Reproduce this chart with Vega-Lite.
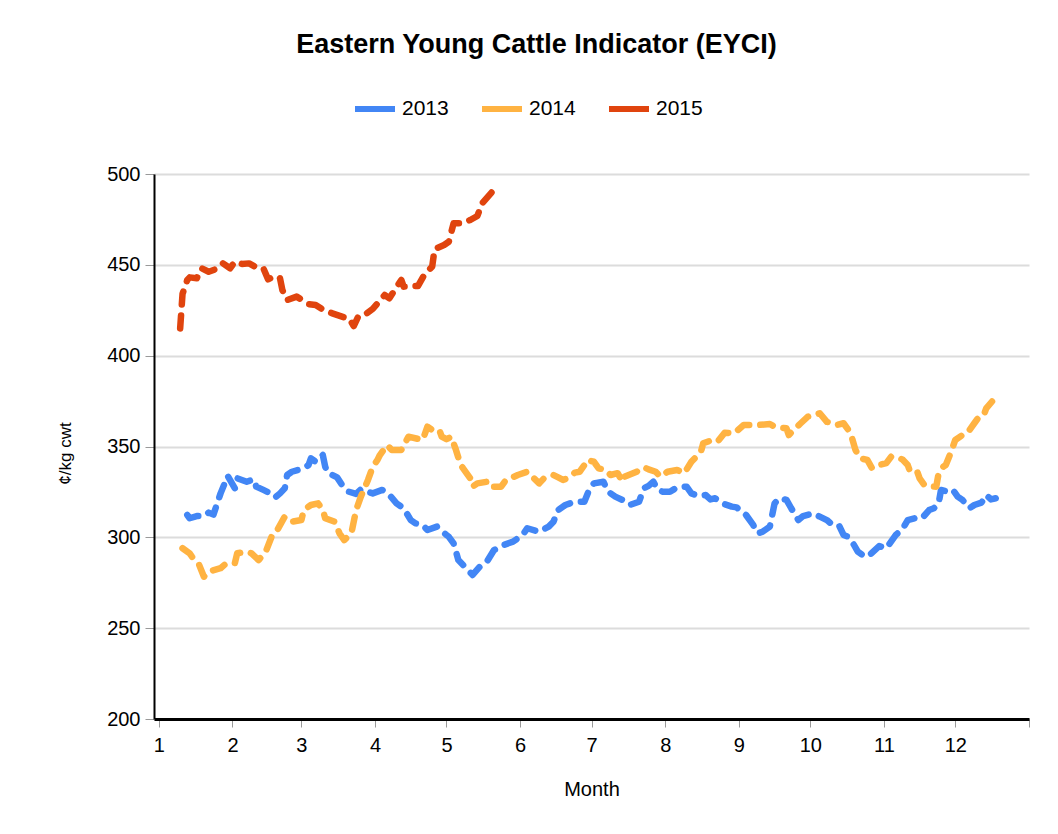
{
  "$schema": "https://vega.github.io/schema/vega-lite/v6.json",
  "width": 875,
  "height": 545,
  "autosize": "none",
  "padding": {"left": 154, "top": 174, "right": 29, "bottom": 115},
  "background": "white",
  "title": {"text": "Eastern Young Cattle Indicator (EYCI)", "fontSize": 27, "fontWeight": "bold", "font": "Liberation Sans", "color": "#000000", "anchor": "middle", "dx": -55, "offset": 27},
  "data": {"values": [
    {"year": "2013", "date": "2013-01-13", "value": 312.3},
    {"year": "2013", "date": "2013-01-14", "value": 310.5},
    {"year": "2013", "date": "2013-01-17", "value": 311.7},
    {"year": "2013", "date": "2013-01-20", "value": 311.7},
    {"year": "2013", "date": "2013-01-22", "value": 313.6},
    {"year": "2013", "date": "2013-01-24", "value": 312.5},
    {"year": "2013", "date": "2013-01-27", "value": 324.2},
    {"year": "2013", "date": "2013-01-30", "value": 333.8},
    {"year": "2013", "date": "2013-02-02", "value": 327.0},
    {"year": "2013", "date": "2013-02-03", "value": 332.5},
    {"year": "2013", "date": "2013-02-07", "value": 330.6},
    {"year": "2013", "date": "2013-02-10", "value": 331.9},
    {"year": "2013", "date": "2013-02-11", "value": 327.9},
    {"year": "2013", "date": "2013-02-14", "value": 326.1},
    {"year": "2013", "date": "2013-02-17", "value": 324.2},
    {"year": "2013", "date": "2013-02-19", "value": 322.0},
    {"year": "2013", "date": "2013-02-21", "value": 324.2},
    {"year": "2013", "date": "2013-02-23", "value": 327.0},
    {"year": "2013", "date": "2013-02-24", "value": 334.3},
    {"year": "2013", "date": "2013-02-26", "value": 336.1},
    {"year": "2013", "date": "2013-03-02", "value": 338.0},
    {"year": "2013", "date": "2013-03-04", "value": 339.8},
    {"year": "2013", "date": "2013-03-05", "value": 343.5},
    {"year": "2013", "date": "2013-03-07", "value": 341.6},
    {"year": "2013", "date": "2013-03-10", "value": 345.3},
    {"year": "2013", "date": "2013-03-11", "value": 338.9},
    {"year": "2013", "date": "2013-03-12", "value": 335.6},
    {"year": "2013", "date": "2013-03-14", "value": 334.3},
    {"year": "2013", "date": "2013-03-16", "value": 333.0},
    {"year": "2013", "date": "2013-03-19", "value": 327.0},
    {"year": "2013", "date": "2013-03-21", "value": 325.1},
    {"year": "2013", "date": "2013-03-24", "value": 323.9},
    {"year": "2013", "date": "2013-03-26", "value": 326.4},
    {"year": "2013", "date": "2013-03-31", "value": 324.2},
    {"year": "2013", "date": "2013-04-04", "value": 326.1},
    {"year": "2013", "date": "2013-04-07", "value": 323.3},
    {"year": "2013", "date": "2013-04-10", "value": 318.7},
    {"year": "2013", "date": "2013-04-13", "value": 316.0},
    {"year": "2013", "date": "2013-04-16", "value": 309.5},
    {"year": "2013", "date": "2013-04-18", "value": 307.7},
    {"year": "2013", "date": "2013-04-21", "value": 306.8},
    {"year": "2013", "date": "2013-04-23", "value": 304.0},
    {"year": "2013", "date": "2013-04-27", "value": 305.9},
    {"year": "2013", "date": "2013-05-01", "value": 301.3},
    {"year": "2013", "date": "2013-05-02", "value": 300.3},
    {"year": "2013", "date": "2013-05-04", "value": 296.7},
    {"year": "2013", "date": "2013-05-06", "value": 287.5},
    {"year": "2013", "date": "2013-05-08", "value": 284.8},
    {"year": "2013", "date": "2013-05-12", "value": 279.3},
    {"year": "2013", "date": "2013-05-15", "value": 283.8},
    {"year": "2013", "date": "2013-05-18", "value": 286.6},
    {"year": "2013", "date": "2013-05-21", "value": 293.0},
    {"year": "2013", "date": "2013-05-25", "value": 295.8},
    {"year": "2013", "date": "2013-05-29", "value": 297.6},
    {"year": "2013", "date": "2013-06-02", "value": 301.3},
    {"year": "2013", "date": "2013-06-04", "value": 305.0},
    {"year": "2013", "date": "2013-06-09", "value": 303.1},
    {"year": "2013", "date": "2013-06-13", "value": 305.9},
    {"year": "2013", "date": "2013-06-15", "value": 308.6},
    {"year": "2013", "date": "2013-06-17", "value": 315.0},
    {"year": "2013", "date": "2013-06-20", "value": 317.8},
    {"year": "2013", "date": "2013-06-22", "value": 318.7},
    {"year": "2013", "date": "2013-06-25", "value": 319.6},
    {"year": "2013", "date": "2013-06-28", "value": 319.6},
    {"year": "2013", "date": "2013-06-30", "value": 326.1},
    {"year": "2013", "date": "2013-07-02", "value": 329.7},
    {"year": "2013", "date": "2013-07-06", "value": 330.6},
    {"year": "2013", "date": "2013-07-08", "value": 325.1},
    {"year": "2013", "date": "2013-07-11", "value": 322.4},
    {"year": "2013", "date": "2013-07-14", "value": 320.6},
    {"year": "2013", "date": "2013-07-17", "value": 317.8},
    {"year": "2013", "date": "2013-07-21", "value": 319.6},
    {"year": "2013", "date": "2013-07-23", "value": 327.0},
    {"year": "2013", "date": "2013-07-25", "value": 328.3},
    {"year": "2013", "date": "2013-07-27", "value": 330.6},
    {"year": "2013", "date": "2013-07-29", "value": 326.1},
    {"year": "2013", "date": "2013-07-31", "value": 325.1},
    {"year": "2013", "date": "2013-08-03", "value": 325.1},
    {"year": "2013", "date": "2013-08-06", "value": 327.5},
    {"year": "2013", "date": "2013-08-10", "value": 327.9},
    {"year": "2013", "date": "2013-08-12", "value": 324.2},
    {"year": "2013", "date": "2013-08-15", "value": 322.8},
    {"year": "2013", "date": "2013-08-18", "value": 323.3},
    {"year": "2013", "date": "2013-08-20", "value": 320.9},
    {"year": "2013", "date": "2013-08-22", "value": 321.5},
    {"year": "2013", "date": "2013-08-25", "value": 318.7},
    {"year": "2013", "date": "2013-08-29", "value": 316.9},
    {"year": "2013", "date": "2013-08-31", "value": 316.5},
    {"year": "2013", "date": "2013-09-04", "value": 312.3},
    {"year": "2013", "date": "2013-09-07", "value": 306.8},
    {"year": "2013", "date": "2013-09-09", "value": 302.2},
    {"year": "2013", "date": "2013-09-11", "value": 303.1},
    {"year": "2013", "date": "2013-09-14", "value": 305.9},
    {"year": "2013", "date": "2013-09-16", "value": 318.7},
    {"year": "2013", "date": "2013-09-18", "value": 321.5},
    {"year": "2013", "date": "2013-09-21", "value": 320.6},
    {"year": "2013", "date": "2013-09-23", "value": 316.0},
    {"year": "2013", "date": "2013-09-26", "value": 309.5},
    {"year": "2013", "date": "2013-09-28", "value": 311.7},
    {"year": "2013", "date": "2013-10-02", "value": 313.2},
    {"year": "2013", "date": "2013-10-05", "value": 311.4},
    {"year": "2013", "date": "2013-10-08", "value": 309.5},
    {"year": "2013", "date": "2013-10-10", "value": 307.3},
    {"year": "2013", "date": "2013-10-13", "value": 306.8},
    {"year": "2013", "date": "2013-10-15", "value": 301.3},
    {"year": "2013", "date": "2013-10-17", "value": 300.3},
    {"year": "2013", "date": "2013-10-19", "value": 296.7},
    {"year": "2013", "date": "2013-10-21", "value": 292.1},
    {"year": "2013", "date": "2013-10-24", "value": 289.3},
    {"year": "2013", "date": "2013-10-26", "value": 290.3},
    {"year": "2013", "date": "2013-10-30", "value": 295.2},
    {"year": "2013", "date": "2013-11-02", "value": 294.0},
    {"year": "2013", "date": "2013-11-06", "value": 301.3},
    {"year": "2013", "date": "2013-11-09", "value": 305.0},
    {"year": "2013", "date": "2013-11-11", "value": 309.5},
    {"year": "2013", "date": "2013-11-14", "value": 310.5},
    {"year": "2013", "date": "2013-11-17", "value": 310.5},
    {"year": "2013", "date": "2013-11-20", "value": 315.0},
    {"year": "2013", "date": "2013-11-22", "value": 316.0},
    {"year": "2013", "date": "2013-11-24", "value": 318.7},
    {"year": "2013", "date": "2013-11-25", "value": 326.1},
    {"year": "2013", "date": "2013-11-28", "value": 325.1},
    {"year": "2013", "date": "2013-11-30", "value": 326.1},
    {"year": "2013", "date": "2013-12-02", "value": 322.4},
    {"year": "2013", "date": "2013-12-04", "value": 320.6},
    {"year": "2013", "date": "2013-12-07", "value": 316.0},
    {"year": "2013", "date": "2013-12-09", "value": 317.8},
    {"year": "2013", "date": "2013-12-12", "value": 319.1},
    {"year": "2013", "date": "2013-12-14", "value": 323.3},
    {"year": "2013", "date": "2013-12-16", "value": 320.9},
    {"year": "2013", "date": "2013-12-18", "value": 321.5},
    {"year": "2014", "date": "2014-01-11", "value": 294.0},
    {"year": "2014", "date": "2014-01-14", "value": 291.2},
    {"year": "2014", "date": "2014-01-15", "value": 289.3},
    {"year": "2014", "date": "2014-01-18", "value": 284.8},
    {"year": "2014", "date": "2014-01-20", "value": 278.3},
    {"year": "2014", "date": "2014-01-22", "value": 281.1},
    {"year": "2014", "date": "2014-01-27", "value": 283.0},
    {"year": "2014", "date": "2014-01-29", "value": 285.3},
    {"year": "2014", "date": "2014-02-02", "value": 285.7},
    {"year": "2014", "date": "2014-02-03", "value": 291.2},
    {"year": "2014", "date": "2014-02-07", "value": 292.1},
    {"year": "2014", "date": "2014-02-09", "value": 291.2},
    {"year": "2014", "date": "2014-02-12", "value": 287.5},
    {"year": "2014", "date": "2014-02-15", "value": 292.1},
    {"year": "2014", "date": "2014-02-18", "value": 302.2},
    {"year": "2014", "date": "2014-02-20", "value": 304.4},
    {"year": "2014", "date": "2014-02-23", "value": 311.4},
    {"year": "2014", "date": "2014-02-26", "value": 308.6},
    {"year": "2014", "date": "2014-03-01", "value": 309.5},
    {"year": "2014", "date": "2014-03-02", "value": 315.0},
    {"year": "2014", "date": "2014-03-05", "value": 317.8},
    {"year": "2014", "date": "2014-03-08", "value": 318.7},
    {"year": "2014", "date": "2014-03-10", "value": 315.0},
    {"year": "2014", "date": "2014-03-11", "value": 310.5},
    {"year": "2014", "date": "2014-03-15", "value": 308.6},
    {"year": "2014", "date": "2014-03-17", "value": 302.2},
    {"year": "2014", "date": "2014-03-19", "value": 298.5},
    {"year": "2014", "date": "2014-03-22", "value": 302.2},
    {"year": "2014", "date": "2014-03-24", "value": 315.0},
    {"year": "2014", "date": "2014-03-26", "value": 322.4},
    {"year": "2014", "date": "2014-03-29", "value": 331.6},
    {"year": "2014", "date": "2014-03-31", "value": 338.9},
    {"year": "2014", "date": "2014-04-02", "value": 342.6},
    {"year": "2014", "date": "2014-04-03", "value": 345.3},
    {"year": "2014", "date": "2014-04-06", "value": 350.8},
    {"year": "2014", "date": "2014-04-08", "value": 348.1},
    {"year": "2014", "date": "2014-04-09", "value": 348.1},
    {"year": "2014", "date": "2014-04-12", "value": 348.1},
    {"year": "2014", "date": "2014-04-15", "value": 355.4},
    {"year": "2014", "date": "2014-04-21", "value": 353.6},
    {"year": "2014", "date": "2014-04-23", "value": 360.9},
    {"year": "2014", "date": "2014-04-25", "value": 359.1},
    {"year": "2014", "date": "2014-04-28", "value": 359.1},
    {"year": "2014", "date": "2014-04-29", "value": 355.4},
    {"year": "2014", "date": "2014-05-01", "value": 354.0},
    {"year": "2014", "date": "2014-05-03", "value": 355.4},
    {"year": "2014", "date": "2014-05-05", "value": 348.1},
    {"year": "2014", "date": "2014-05-07", "value": 339.8},
    {"year": "2014", "date": "2014-05-08", "value": 338.0},
    {"year": "2014", "date": "2014-05-11", "value": 332.5},
    {"year": "2014", "date": "2014-05-12", "value": 327.9},
    {"year": "2014", "date": "2014-05-14", "value": 329.7},
    {"year": "2014", "date": "2014-05-18", "value": 330.6},
    {"year": "2014", "date": "2014-05-19", "value": 327.9},
    {"year": "2014", "date": "2014-05-24", "value": 327.9},
    {"year": "2014", "date": "2014-05-26", "value": 331.6},
    {"year": "2014", "date": "2014-05-28", "value": 332.5},
    {"year": "2014", "date": "2014-05-31", "value": 334.3},
    {"year": "2014", "date": "2014-06-04", "value": 336.1},
    {"year": "2014", "date": "2014-06-09", "value": 329.7},
    {"year": "2014", "date": "2014-06-11", "value": 332.5},
    {"year": "2014", "date": "2014-06-15", "value": 334.3},
    {"year": "2014", "date": "2014-06-17", "value": 333.0},
    {"year": "2014", "date": "2014-06-19", "value": 331.6},
    {"year": "2014", "date": "2014-06-21", "value": 332.5},
    {"year": "2014", "date": "2014-06-24", "value": 335.6},
    {"year": "2014", "date": "2014-06-26", "value": 336.1},
    {"year": "2014", "date": "2014-06-28", "value": 339.8},
    {"year": "2014", "date": "2014-06-29", "value": 342.6},
    {"year": "2014", "date": "2014-07-02", "value": 341.6},
    {"year": "2014", "date": "2014-07-04", "value": 338.0},
    {"year": "2014", "date": "2014-07-07", "value": 337.1},
    {"year": "2014", "date": "2014-07-09", "value": 334.3},
    {"year": "2014", "date": "2014-07-12", "value": 335.3},
    {"year": "2014", "date": "2014-07-14", "value": 330.6},
    {"year": "2014", "date": "2014-07-15", "value": 333.4},
    {"year": "2014", "date": "2014-07-20", "value": 336.1},
    {"year": "2014", "date": "2014-07-23", "value": 338.6},
    {"year": "2014", "date": "2014-07-25", "value": 337.4},
    {"year": "2014", "date": "2014-07-28", "value": 336.1},
    {"year": "2014", "date": "2014-07-30", "value": 333.4},
    {"year": "2014", "date": "2014-08-02", "value": 336.1},
    {"year": "2014", "date": "2014-08-06", "value": 337.1},
    {"year": "2014", "date": "2014-08-09", "value": 335.3},
    {"year": "2014", "date": "2014-08-12", "value": 341.6},
    {"year": "2014", "date": "2014-08-16", "value": 347.1},
    {"year": "2014", "date": "2014-08-17", "value": 351.8},
    {"year": "2014", "date": "2014-08-20", "value": 353.2},
    {"year": "2014", "date": "2014-08-23", "value": 352.6},
    {"year": "2014", "date": "2014-08-26", "value": 357.6},
    {"year": "2014", "date": "2014-08-30", "value": 357.3},
    {"year": "2014", "date": "2014-09-03", "value": 361.8},
    {"year": "2014", "date": "2014-09-05", "value": 361.8},
    {"year": "2014", "date": "2014-09-09", "value": 361.8},
    {"year": "2014", "date": "2014-09-14", "value": 362.4},
    {"year": "2014", "date": "2014-09-16", "value": 360.9},
    {"year": "2014", "date": "2014-09-21", "value": 360.0},
    {"year": "2014", "date": "2014-09-22", "value": 356.3},
    {"year": "2014", "date": "2014-09-24", "value": 359.1},
    {"year": "2014", "date": "2014-09-27", "value": 362.8},
    {"year": "2014", "date": "2014-09-30", "value": 366.4},
    {"year": "2014", "date": "2014-10-03", "value": 367.3},
    {"year": "2014", "date": "2014-10-05", "value": 368.3},
    {"year": "2014", "date": "2014-10-08", "value": 363.6},
    {"year": "2014", "date": "2014-10-10", "value": 362.8},
    {"year": "2014", "date": "2014-10-12", "value": 361.8},
    {"year": "2014", "date": "2014-10-15", "value": 362.8},
    {"year": "2014", "date": "2014-10-18", "value": 357.3},
    {"year": "2014", "date": "2014-10-20", "value": 348.1},
    {"year": "2014", "date": "2014-10-22", "value": 343.5},
    {"year": "2014", "date": "2014-10-25", "value": 342.6},
    {"year": "2014", "date": "2014-10-27", "value": 338.0},
    {"year": "2014", "date": "2014-10-30", "value": 339.8},
    {"year": "2014", "date": "2014-11-02", "value": 340.8},
    {"year": "2014", "date": "2014-11-04", "value": 344.4},
    {"year": "2014", "date": "2014-11-07", "value": 344.1},
    {"year": "2014", "date": "2014-11-09", "value": 342.6},
    {"year": "2014", "date": "2014-11-11", "value": 339.8},
    {"year": "2014", "date": "2014-11-12", "value": 336.1},
    {"year": "2014", "date": "2014-11-15", "value": 336.1},
    {"year": "2014", "date": "2014-11-16", "value": 332.5},
    {"year": "2014", "date": "2014-11-18", "value": 328.8},
    {"year": "2014", "date": "2014-11-19", "value": 328.3},
    {"year": "2014", "date": "2014-11-23", "value": 327.9},
    {"year": "2014", "date": "2014-11-24", "value": 335.3},
    {"year": "2014", "date": "2014-11-26", "value": 338.9},
    {"year": "2014", "date": "2014-11-27", "value": 339.8},
    {"year": "2014", "date": "2014-11-29", "value": 346.3},
    {"year": "2014", "date": "2014-12-01", "value": 353.6},
    {"year": "2014", "date": "2014-12-04", "value": 356.3},
    {"year": "2014", "date": "2014-12-06", "value": 357.3},
    {"year": "2014", "date": "2014-12-09", "value": 362.8},
    {"year": "2014", "date": "2014-12-11", "value": 366.4},
    {"year": "2014", "date": "2014-12-13", "value": 367.3},
    {"year": "2014", "date": "2014-12-14", "value": 371.0},
    {"year": "2014", "date": "2014-12-17", "value": 375.6},
    {"year": "2015", "date": "2015-01-10", "value": 415.0},
    {"year": "2015", "date": "2015-01-11", "value": 434.0},
    {"year": "2015", "date": "2015-01-13", "value": 441.7},
    {"year": "2015", "date": "2015-01-14", "value": 443.1},
    {"year": "2015", "date": "2015-01-17", "value": 442.6},
    {"year": "2015", "date": "2015-01-19", "value": 448.1},
    {"year": "2015", "date": "2015-01-22", "value": 446.2},
    {"year": "2015", "date": "2015-01-26", "value": 448.1},
    {"year": "2015", "date": "2015-01-28", "value": 450.8},
    {"year": "2015", "date": "2015-01-31", "value": 448.1},
    {"year": "2015", "date": "2015-02-02", "value": 451.7},
    {"year": "2015", "date": "2015-02-05", "value": 450.5},
    {"year": "2015", "date": "2015-02-08", "value": 450.8},
    {"year": "2015", "date": "2015-02-11", "value": 448.6},
    {"year": "2015", "date": "2015-02-14", "value": 448.1},
    {"year": "2015", "date": "2015-02-16", "value": 442.0},
    {"year": "2015", "date": "2015-02-19", "value": 443.9},
    {"year": "2015", "date": "2015-02-21", "value": 442.6},
    {"year": "2015", "date": "2015-02-22", "value": 436.1},
    {"year": "2015", "date": "2015-02-24", "value": 430.6},
    {"year": "2015", "date": "2015-02-28", "value": 432.5},
    {"year": "2015", "date": "2015-03-04", "value": 428.4},
    {"year": "2015", "date": "2015-03-07", "value": 427.9},
    {"year": "2015", "date": "2015-03-11", "value": 424.6},
    {"year": "2015", "date": "2015-03-14", "value": 423.3},
    {"year": "2015", "date": "2015-03-19", "value": 421.1},
    {"year": "2015", "date": "2015-03-21", "value": 420.6},
    {"year": "2015", "date": "2015-03-23", "value": 416.3},
    {"year": "2015", "date": "2015-03-25", "value": 421.8},
    {"year": "2015", "date": "2015-03-28", "value": 422.9},
    {"year": "2015", "date": "2015-03-31", "value": 425.7},
    {"year": "2015", "date": "2015-04-05", "value": 433.4},
    {"year": "2015", "date": "2015-04-07", "value": 431.6},
    {"year": "2015", "date": "2015-04-12", "value": 441.7},
    {"year": "2015", "date": "2015-04-13", "value": 438.0},
    {"year": "2015", "date": "2015-04-17", "value": 438.3},
    {"year": "2015", "date": "2015-04-19", "value": 438.3},
    {"year": "2015", "date": "2015-04-22", "value": 445.3},
    {"year": "2015", "date": "2015-04-25", "value": 449.0},
    {"year": "2015", "date": "2015-04-26", "value": 458.6},
    {"year": "2015", "date": "2015-04-30", "value": 460.9},
    {"year": "2015", "date": "2015-05-02", "value": 462.7},
    {"year": "2015", "date": "2015-05-04", "value": 472.9},
    {"year": "2015", "date": "2015-05-08", "value": 472.9},
    {"year": "2015", "date": "2015-05-11", "value": 474.7},
    {"year": "2015", "date": "2015-05-14", "value": 476.9},
    {"year": "2015", "date": "2015-05-16", "value": 483.9},
    {"year": "2015", "date": "2015-05-20", "value": 489.9}
  ]},
  "mark": {"type": "line", "strokeWidth": 6.5, "strokeDash": [13, 11], "strokeCap": "round", "strokeJoin": "round"},
  "encoding": {
    "x": {
      "field": "date", "type": "temporal", "timeUnit": "monthdate", "title": "Month",
      "scale": {"domain": [{"year": 2011, "month": 12, "date": 30}, {"year": 2013, "month": 1, "date": 1}]},
      "axis": {
        "tickCount": {"interval": "month", "step": 1},
        "labelExpr": "year(datum.value) > 2012 ? '' : timeFormat(datum.value, '%-m')",
        "labelFontSize": 20, "labelColor": "#000000", "labelPadding": 8, "labelFlush": false, "labelOverlap": false,
        "domainColor": "#000000", "domainWidth": 3, "tickColor": "#999999", "tickSize": 8, "tickWidth": 1,
        "grid": false, "titleFontSize": 20, "titleFontWeight": "normal", "titleColor": "#000000", "titlePadding": 24
      }
    },
    "y": {
      "field": "value", "type": "quantitative", "title": "¢/kg cwt",
      "scale": {"domain": [200, 500], "nice": false, "zero": false},
      "axis": {
        "values": [200, 250, 300, 350, 400, 450, 500],
        "grid": true, "gridColor": "#dcdcdc", "gridWidth": 2,
        "domainColor": "#000000", "domainWidth": 2, "tickColor": "#999999", "tickSize": 9, "tickWidth": 1,
        "labelFontSize": 20, "labelPadding": 5, "labelColor": "#000000",
        "titleFontSize": 17, "titleFontWeight": "normal", "titleColor": "#000000", "titleX": -80, "titleY": 279
      }
    },
    "color": {
      "field": "year", "type": "nominal",
      "scale": {"domain": ["2013", "2014", "2015"], "range": ["#4286f5", "#ffb342", "#e0440e"]},
      "legend": {
        "title": null, "orient": "none", "legendX": 198, "legendY": -88, "direction": "horizontal",
        "symbolType": "stroke", "symbolStrokeWidth": 6, "symbolSize": 1600, "symbolDash": [1, 0],
        "labelFontSize": 21, "labelColor": "#000000", "labelOffset": 4, "columnPadding": 21, "padding": 0
      }
    }
  },
  "config": {"view": {"stroke": null}, "font": "Liberation Sans"}
}
